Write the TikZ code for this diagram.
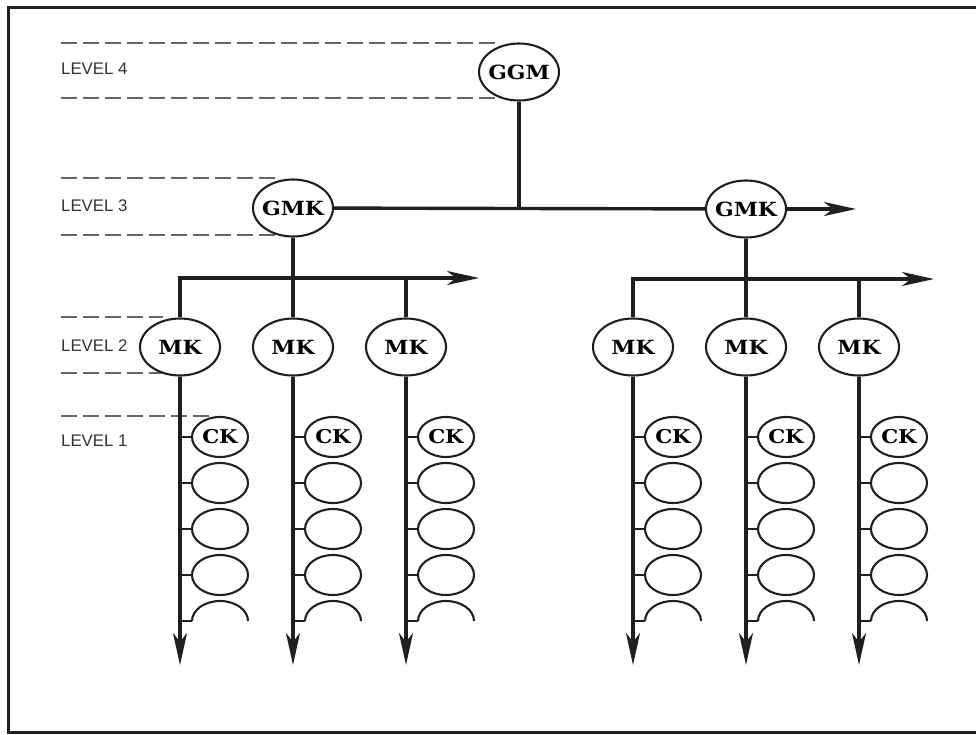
\documentclass[tikz,border=0pt]{standalone}
\usepackage{fontspec}
\newfontfamily\lvlfont{Liberation Sans}
\newfontfamily\nodefont{DejaVu Serif}[FakeStretch=1.12]
\usetikzlibrary{shapes.geometric,arrows.meta}
\begin{document}
\begin{tikzpicture}[x=1pt,y=-1pt,
  ln/.style={line width=3.4pt,draw=black!88},
  stub/.style={line width=2.8pt,draw=black!88},
  arr/.style={ln,-{Stealth[length=32pt,width=14pt,inset=9pt]}},
  big/.style={ellipse,draw=black!88,line width=2.1pt,minimum width=80pt,minimum height=57pt,inner xsep=-4pt,inner ysep=0pt,font=\nodefont\fontsize{19.5}{19.5}\selectfont\bfseries},
  small/.style={ellipse,draw=black!88,line width=2.1pt,minimum width=56pt,minimum height=40pt,inner sep=0pt,font=\nodefont\fontsize{19}{19}\selectfont\bfseries},
  guide/.style={draw=black!60,line width=1.2pt,dash pattern=on 16pt off 6pt},
  lvl/.style={anchor=west,inner sep=0pt,font=\lvlfont\fontsize{16.8}{17}\selectfont,text=black!80}]
\useasboundingbox (0,0) rectangle (976,734);
\draw[line width=3pt,black!88] (995,7) -- (8,7) -- (8,732) -- (995,732);

% level guides
\draw[guide] (61,43) -- (500,43);
\draw[guide] (61,98) -- (500,98);
\draw[guide] (61,178) -- (276,178);
\draw[guide] (61,235) -- (277,235);
\draw[guide] (61,317) -- (163,317);
\draw[guide] (61,373) -- (162,373);
\draw[guide] (61,416) -- (210,416);
\node[lvl] (l4) at (61,69) {LEVEL 4};
\node[lvl] (l3) at (61,206) {LEVEL 3};
\node[lvl] (l2) at (61,346) {LEVEL 2};
\node[lvl] (l1) at (61,441) {LEVEL 1};

% top levels
\node[big] (ggm) at (519,72) {GGM};
\node[big] (gmkL) at (293,208) {GMK};
\node[big] (gmkR) at (746,209) {GMK};
\coordinate (gmkTip) at (856,209);
\coordinate (busL) at (180,278);
\coordinate (busLtip) at (479,278);
\coordinate (busR) at (633,279);
\coordinate (busRtip) at (934,279);
\coordinate (bot) at (0,665);

\foreach \c/\x in {L1/180,L2/293,L3/406,R1/633,R2/746,R3/859}
  \node[big] (mk\c) at (\x,347) {MK};

\draw[ln] (ggm) -- (ggm |- gmkL);
\draw[ln] (gmkL) -- (gmkR);
\draw[arr] (gmkR) -- (gmkTip);
\draw[ln] (gmkL) -- (gmkL |- busL);
\draw[ln] (gmkR) -- (gmkR |- busR);
\draw[arr,line join=miter] (mkL1) -- (mkL1 |- busL) -- (busLtip);
\draw[arr,line join=miter] (mkR1) -- (mkR1 |- busR) -- (busRtip);
\foreach \m in {mkL2,mkL3} \draw[ln] (\m |- busL) -- (\m);
\foreach \m in {mkR2,mkR3} \draw[ln] (\m |- busR) -- (\m);

% level 1 columns
\foreach \c/\x in {L1/180,L2/293,L3/406,R1/633,R2/746,R3/859}{
  \draw[arr] (mk\c) -- (mk\c |- bot);
  \node[small] (ck\c) at (\x+40,437) {CK};
  \node[small] (ea\c) at (\x+40,483) {};
  \node[small] (eb\c) at (\x+40,529) {};
  \node[small] (ec\c) at (\x+40,575) {};
  \coordinate (arc\c) at (\x+12,621);
  \foreach \n in {ck,ea,eb,ec}
    \draw[stub] (\n\c.west) -- (\n\c.west -| mk\c);
  \draw[stub] (arc\c -| mk\c) -- (arc\c);
  \draw[line width=2.1pt,black!88] (arc\c) arc[start angle=180,end angle=360,x radius=28,y radius=20];
}
\end{tikzpicture}
\end{document}
